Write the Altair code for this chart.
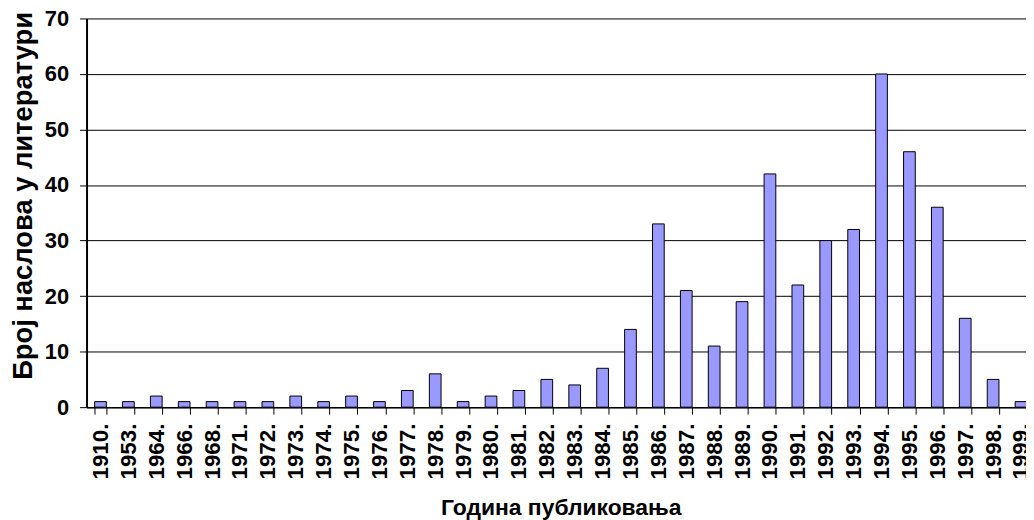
import altair as alt
import pandas as pd

years = ["1910.", "1953.", "1964.", "1966.", "1968.", "1971.", "1972.", "1973.", "1974.", "1975.",
         "1976.", "1977.", "1978.", "1979.", "1980.", "1981.", "1982.", "1983.", "1984.", "1985.",
         "1986.", "1987.", "1988.", "1989.", "1990.", "1991.", "1992.", "1993.", "1994.", "1995.",
         "1996.", "1997.", "1998.", "1999."]
counts = [1, 1, 2, 1, 1, 1, 1, 2, 1, 2,
          1, 3, 6, 1, 2, 3, 5, 4, 7, 14,
          33, 21, 11, 19, 42, 22, 30, 32, 60, 46,
          36, 16, 5, 1]

df = pd.DataFrame({"year": years, "count": counts})

FONT = "Liberation Sans"

chart = alt.Chart(df).mark_bar(
    color="#9999FF", stroke="#000000", strokeWidth=1
).encode(
    x=alt.X("year:N", sort=None,
            scale=alt.Scale(paddingInner=0.58, paddingOuter=0.29, range=[0, 954]),
            axis=alt.Axis(title="Година публиковања", labelAngle=-90, labelAlign="right",
                          labelBaseline="middle", labelFontSize=22.5, labelFont=FONT,
                          labelFontWeight="bold", labelColor="#000000", labelPadding=9,
                          tickBand="extent", tickSize=7, tickColor="#000000",
                          domainColor="#000000", domainWidth=1.5,
                          titleFont=FONT, titleFontSize=23, titleFontWeight="bold",
                          titleColor="#000000", titleY=108, titleBaseline="alphabetic",
                          titleX=477, titleAlign="center")),
    y=alt.Y("count:Q", scale=alt.Scale(domain=[0, 70], nice=False),
            axis=alt.Axis(title="Број наслова у литератури", values=[0, 10, 20, 30, 40, 50, 60, 70],
                          labelFontSize=22, labelFont=FONT, labelFontWeight="bold",
                          labelColor="#000000", labelPadding=11, tickSize=7,
                          tickColor="#000000", domainColor="#000000", domainWidth=2,
                          grid=True, gridColor="#000000", gridWidth=1,
                          titleFont=FONT, titleFontSize=27.5, titleFontWeight="bold",
                          titleColor="#000000", titleAngle=-90, titleX=-63, titleY=178,
                          titleAlign="center", titleBaseline="middle")),
).properties(
    width=945, height=391,
    padding={"left": 79, "top": 9, "right": 0, "bottom": 112},
    autosize=alt.AutoSizeParams(type="none"),
    background="#FFFFFF",
).configure_view(strokeWidth=0)

chart.save("out.html", embed_options={"renderer": "svg", "actions": False})
